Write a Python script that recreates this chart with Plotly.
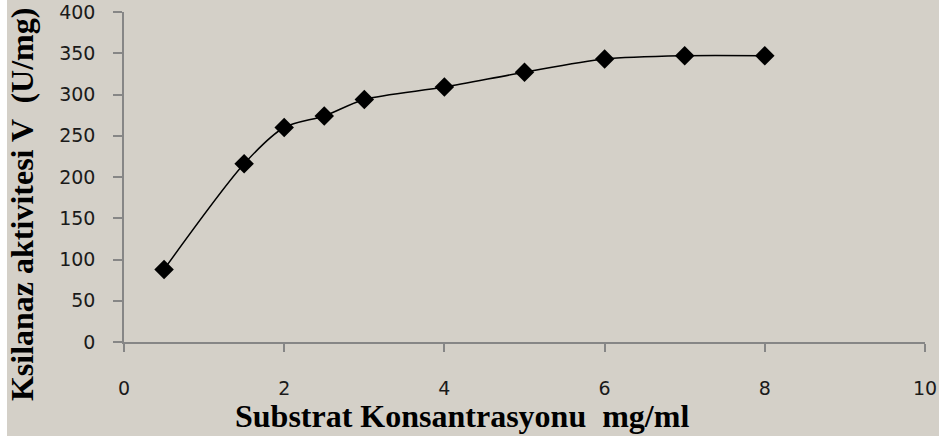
import plotly.graph_objects as go

substrate = [0.5, 1.5, 2, 2.5, 3, 4, 5, 6, 7, 8]
activity = [88, 216, 260, 274, 294, 309, 327, 343, 347, 347]

x_ticks = [0, 2, 4, 6, 8, 10]
y_ticks = [0, 50, 100, 150, 200, 250, 300, 350, 400]

x_title = "Substrat Konsantrasyonu  mg/ml"
y_title = "Ksilanaz aktivitesi V  (U/mg)"

bg = "#d4d0c8"
axis_col = "#868686"

fig = go.Figure()
fig.add_trace(go.Scatter(
    x=substrate, y=activity, mode="lines+markers",
    line=dict(color="black", width=1.5, shape="spline", smoothing=0.8),
    marker=dict(symbol="diamond", size=15, color="black"),
    showlegend=False,
))

fig.update_layout(
    width=939, height=439,
    margin=dict(l=124, r=14, t=12, b=97, autoexpand=False),
    paper_bgcolor="white",
    plot_bgcolor=bg,
    font=dict(family="DejaVu Sans", size=19, color="#1a1a1a"),
    shapes=[dict(
        type="rect", xref="paper", yref="paper",
        xsizemode="pixel", ysizemode="pixel",
        xanchor=0, yanchor=0,
        x0=-117, x1=815, y0=-94, y1=342,
        fillcolor=bg, line=dict(width=0), layer="below",
    )],
    annotations=[
        dict(text=x_title, xref="paper", yref="paper", x=0.422, y=0,
             yshift=-54, xanchor="center", yanchor="top", showarrow=False,
             font=dict(family="Liberation Serif", size=32, color="black", weight="bold")),
        dict(text=y_title, xref="paper", yref="paper", x=0, y=0.415,
             xshift=-102, xanchor="center", yanchor="middle", textangle=-90,
             showarrow=False,
             font=dict(family="Liberation Serif", size=32, color="black", weight="bold")),
    ],
)

fig.update_xaxes(
    range=[0, 10], tickvals=x_ticks, showgrid=False, zeroline=False,
    showline=True, linecolor=axis_col, linewidth=1.5,
    ticks="outside", ticklen=8, tickcolor=axis_col, tickwidth=1.5,
    ticklabelstandoff=20, ticklabeloverflow="allow", automargin=False,
)
fig.update_yaxes(
    range=[0, 400], tickvals=y_ticks, showgrid=False, zeroline=False,
    showline=True, linecolor=axis_col, linewidth=1.5,
    ticks="outside", ticklen=9, tickcolor=axis_col, tickwidth=1.5,
    ticklabelstandoff=14, ticklabeloverflow="allow", automargin=False,
)

fig.write_html(
    "out.html",
    config={"displayModeBar": False},
    post_script="document.body.style.margin='0';document.body.style.overflow='hidden';",
)
